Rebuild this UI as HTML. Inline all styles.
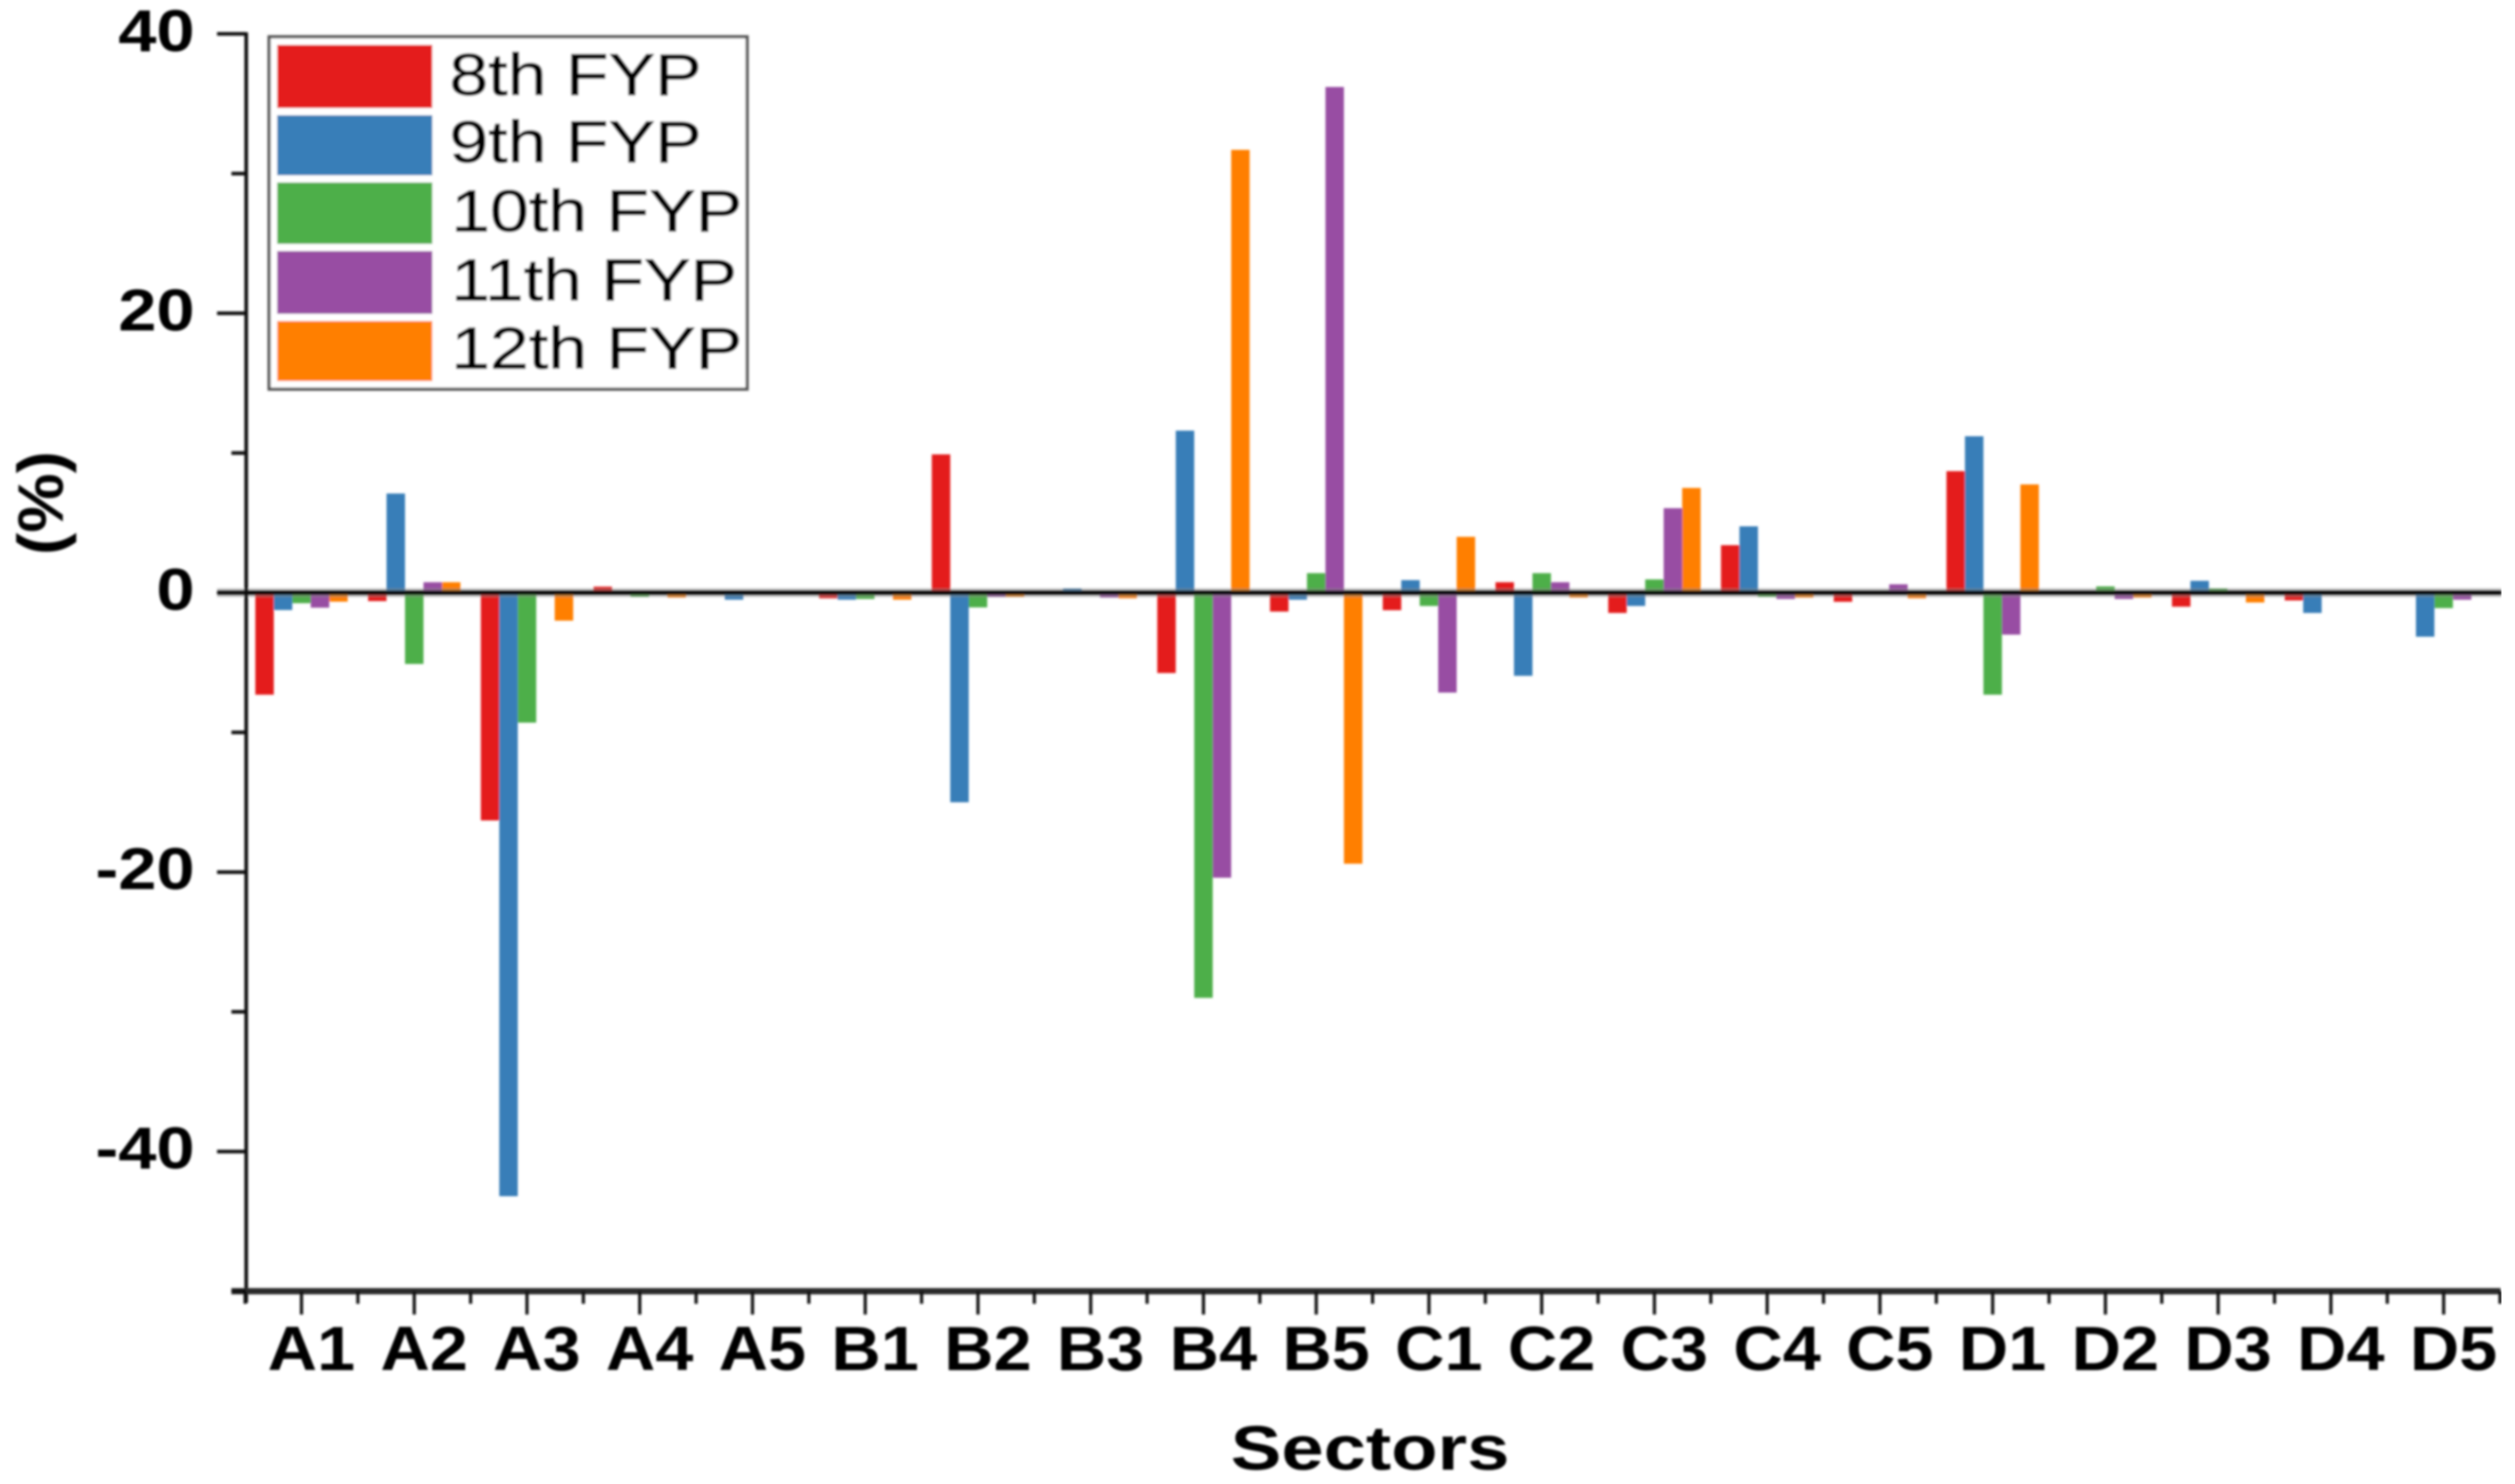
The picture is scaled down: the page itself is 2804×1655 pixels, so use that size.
<!DOCTYPE html>
<html lang="en">
<head>
<meta charset="utf-8">
<title>Sector change by FYP</title>
<style>
  html, body { margin: 0; padding: 0; background: #fff; }
  svg { display: block; }
  text { font-family: "Liberation Sans", Arial, sans-serif; fill: #000; }
</style>
</head>
<body>
<svg id="chart" xmlns="http://www.w3.org/2000/svg" width="2804" height="1655" viewBox="0 0 2804 1655">
  <defs>
    <filter id="soft" x="0" y="0" width="100%" height="100%" filterUnits="objectBoundingBox">
      <feGaussianBlur stdDeviation="1.2"/>
    </filter>
  </defs>
  <rect width="2804" height="1655" fill="#fff"/>
  <g id="root" filter="url(#soft)">
    <g id="bars"></g>
    <g id="axes"></g>
    <g>
      <rect x="300" y="41" width="533" height="393" fill="#fff" stroke="#555" stroke-width="3.5"/>
      <g id="legend-entries"></g>
    </g>
    <text font-weight="bold" font-size="70" text-anchor="middle" transform="translate(1527.5,1639) scale(1.21,1)">Sectors</text>
    <text font-weight="bold" font-size="71" text-anchor="middle" transform="translate(70,561) rotate(-90) scale(1.05,1)">(%)</text>
  </g>
</svg>
<script>
const categories = ["A1","A2","A3","A4","A5","B1","B2","B3","B4","B5","C1","C2","C3","C4","C5","D1","D2","D3","D4","D5"];
const seriesNames = ["8th FYP","9th FYP","10th FYP","11th FYP","12th FYP"];
const seriesColors = ["#E41A1C","#377EB8","#4DAF4A","#984EA3","#FF7F00"];
const fyp8  = [-7.3,-0.6,-16.3,0.43,0,-0.4,9.9,0,-5.75,-1.35,-1.25,0.75,-1.45,3.4,-0.65,8.7,0,-1,-0.55,0];
const fyp9  = [-1.24,7.1,-43.2,0,-0.5,-0.5,-15,0.3,11.6,-0.5,0.9,-5.95,-0.95,4.75,0,11.2,0,0.85,-1.45,-3.15];
const fyp10 = [-0.75,-5.1,-9.3,-0.3,0,-0.45,-1.05,0,-29,1.4,-0.95,1.4,0.95,-0.3,0,-7.3,0.45,0.3,0,-1.1];
const fyp11 = [-1.07,0.75,0,0,0,0,-0.3,-0.35,-20.4,36.2,-7.15,0.75,6.05,-0.45,0.6,-3,-0.45,0,0,-0.5];
const fyp12 = [-0.64,0.75,-2,-0.35,0,-0.5,-0.3,-0.4,31.7,-19.4,4,-0.35,7.5,-0.35,-0.4,7.75,-0.35,-0.7,0,0];
const majorYTicks = [40,20,0,-20,-40];
const minorYTicks = [30,10,-10,-30,-50];

const NS = "http://www.w3.org/2000/svg";
const allSeries = [fyp8, fyp9, fyp10, fyp11, fyp12];
const xLeft = 273.3, band = 125.7, barW = 20.6;
const y0 = 661, yK = 15.58, axisBottom = 1440, xRight = 2788;
function yPos(v) { return y0 - v * yK; }
function xCenter(i) { return xLeft + band * (i + 0.5); }
function make(tag, attrs) {
  const el = document.createElementNS(NS, tag);
  for (const k in attrs) el.setAttribute(k, attrs[k]);
  return el;
}

const barsG = document.getElementById("bars");
allSeries.forEach(function (vals, s) {
  vals.forEach(function (v, i) {
    const top = yPos(Math.max(v, 0));
    const bottom = yPos(Math.min(v, 0));
    const r = make("rect", {
      x: xCenter(i) + (s - 2.5) * barW,
      y: top,
      width: barW,
      height: bottom - top,
      fill: seriesColors[s]
    });
    
    
    barsG.appendChild(r);
  });
});

const axesG = document.getElementById("axes");
function line(x1, y1, x2, y2, w, color, op) {
  const l = make("line", { x1: x1, y1: y1, x2: x2, y2: y2, stroke: color, "stroke-width": w });
  if (op) l.setAttribute("stroke-opacity", op);
  axesG.appendChild(l);
  return l;
}

const zeroHalo = line(242, y0, 2789, y0, 10, "#888", 0.45);


const zeroLine = line(242, y0, 2789, y0, 5, "#000");



const yAxisLine = line(274.5, 36, 274.5, 1453, 4, "#111");


const xAxisLine = line(258, axisBottom, xRight, axisBottom, 7, "#2a2a2a");



majorYTicks.forEach(function (v) {
  const t = line(242, yPos(v), 274, yPos(v), 4, "#111");
  
  
  const label = make("text", {
    "font-weight": "bold",
    "font-size": 66,
    "text-anchor": "end",
    transform: "translate(217," + (yPos(v) + 19) + ") scale(1.16,1)"
  });
  
  
  label.textContent = v < 0 ? "-" + Math.abs(v) : String(v);
  axesG.appendChild(label);
});
minorYTicks.forEach(function (v) {
  const t = line(258, yPos(v), 274, yPos(v), 4, "#111");
  
  
});

categories.forEach(function (c, i) {
  const cx = xCenter(i);
  const t = line(cx, axisBottom, cx, 1466, 3.5, "#111");
  
  
  const label = make("text", {
    "font-weight": "bold",
    "font-size": 70,
    "text-anchor": "middle",
    transform: "translate(" + (cx + 11) + ",1528) scale(1.09,1)"
  });
  
  
  label.textContent = c;
  axesG.appendChild(label);
});
for (let i = 0; i <= categories.length; i++) {
  const bx = xLeft + band * i;
  const t = line(bx, axisBottom, bx, 1454, 3.5, "#111");
  
  
}

const legendG = document.getElementById("legend-entries");
const swatchTop = [50, 128.5, 203.5, 280, 358];
const swatchBottom = [120.5, 195.5, 272, 350, 425];
const labelBase = [106, 181, 258, 335, 411];
const labelLeft = [501, 501, 503, 503, 503];
seriesNames.forEach(function (n, s) {
  const sw = make("rect", {
    x: 309, y: swatchTop[s], width: 173,
    height: swatchBottom[s] - swatchTop[s],
    fill: seriesColors[s]
  });
  
  
  legendG.appendChild(sw);
  const tx = make("text", {
    "font-size": 66,
    "stroke": "#000",
    "stroke-width": 0.7,
    transform: "translate(" + labelLeft[s] + "," + labelBase[s] + ") scale(1.18,1)"
  });
  
  
  tx.textContent = n;
  legendG.appendChild(tx);
});
</script>
</body>
</html>
